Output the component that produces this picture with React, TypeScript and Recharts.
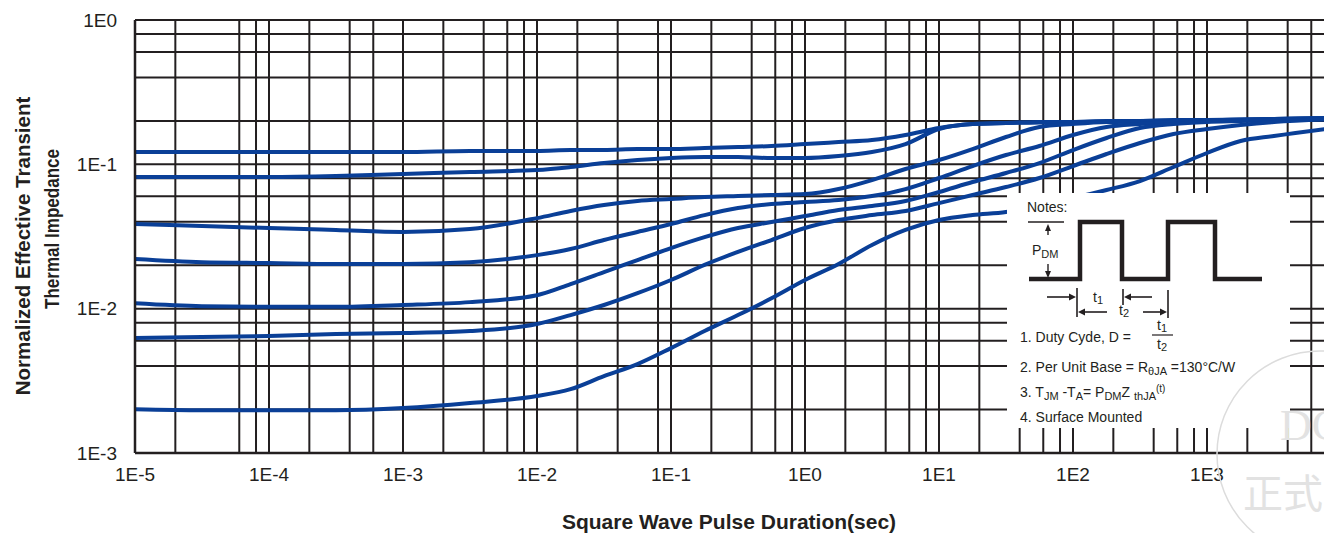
import React from "react";
import { LineChart, Line, XAxis, YAxis, CartesianGrid } from "recharts";

// Square wave pulse duration (s)
const pulseSec = [
  1e-5, 3.16e-5, 1e-4, 3.16e-4, 1e-3, 3.16e-3, 1e-2, 1.78e-2, 3.16e-2, 5.62e-2,
  0.1, 0.178, 0.316, 0.562, 1, 1.78, 3.16, 5.62, 10, 17.8,
  31.6, 56.2, 100, 178, 316, 562, 1000, 1780, 3160, 10000,
];

// Normalized effective transient thermal impedance per duty cycle
const dutyHalf = [0.1217,0.1217,0.1217,0.1217,0.1217,0.1237,0.1237,0.1256,0.1256,0.1276,0.1276,0.1297,0.1318,0.1339,0.1382,0.1427,0.1474,0.1596,0.1784,0.1902,0.1933,0.1965,0.1965,0.1996,0.1996,0.2028,0.2028,0.2044,0.2061,0.211];
const dutyFifth = [0.0817,0.0817,0.0817,0.083,0.0857,0.0885,0.0913,0.0958,0.1021,0.1071,0.1106,0.1124,0.1124,0.1106,0.1106,0.1142,0.1217,0.1382,0.1757,0.1902,0.1933,0.1949,0.1965,0.198,0.1996,0.2012,0.2028,0.2044,0.2061,0.2094];
const dutyTenth = [0.0386,0.0374,0.0362,0.0351,0.034,0.0356,0.0424,0.0475,0.0522,0.0557,0.0575,0.0593,0.0603,0.0613,0.0622,0.0674,0.0778,0.0928,0.1071,0.1276,0.1546,0.1813,0.1902,0.1965,0.198,0.1996,0.2012,0.2028,0.2061,0.2094];
const dutyFive = [0.0221,0.021,0.0207,0.0204,0.0204,0.021,0.0235,0.0259,0.0299,0.034,0.0386,0.0445,0.0498,0.0531,0.0548,0.0566,0.0603,0.0674,0.0804,0.0973,0.116,0.1339,0.1596,0.1813,0.1902,0.1965,0.1996,0.2028,0.2044,0.2077];
const dutyTwo = [0.0109,0.0104,0.0103,0.0103,0.0106,0.0111,0.0124,0.0148,0.0179,0.0217,0.0263,0.0313,0.0362,0.0398,0.0438,0.0482,0.0514,0.0557,0.0643,0.0754,0.0871,0.1021,0.1256,0.1522,0.1784,0.1902,0.1965,0.1996,0.2028,0.2061];
const dutyOne = [0.00626,0.00636,0.00646,0.00667,0.00678,0.007,0.00782,0.00903,0.0106,0.0128,0.0158,0.0201,0.0247,0.0299,0.0362,0.0411,0.0445,0.0475,0.0539,0.0613,0.0696,0.0804,0.0973,0.1179,0.1405,0.1622,0.1757,0.1872,0.1965,0.2061];
const singlePulse = [0.00201,0.00198,0.00198,0.00198,0.00205,0.00222,0.00248,0.00277,0.00341,0.00413,0.00533,0.007,0.00903,0.0118,0.0158,0.0204,0.0276,0.0351,0.0411,0.0445,0.0467,0.0522,0.0584,0.0664,0.0766,0.0958,0.1198,0.145,0.1571,0.1813];

// Grid lines (log paper)
const xGrid = [
  1e-5, 2e-5, 6e-5, 8e-5, 1e-4, 2e-4, 4e-4, 6e-4, 1e-3, 2e-3, 4e-3, 6e-3, 8e-3,
  1e-2, 2e-2, 4e-2, 8e-2, 0.1, 0.2, 0.4, 0.6, 0.8, 1, 2, 4, 6, 8, 10, 20, 40, 60, 80,
  100, 200, 400, 600, 800, 1000, 2000, 4000, 6000, 8000, 10000,
];
const yGrid = [0.001, 0.002, 0.004, 0.006, 0.008, 0.01, 0.02, 0.04, 0.06, 0.08, 0.1, 0.2, 0.4, 0.6, 0.8, 1];

const xTickLabels = ["1E-5", "1E-4", "1E-3", "1E-2", "1E-1", "1E0", "1E1", "1E2", "1E3", "1E4"];
const yTickLabels = ["1E-3", "1E-2", "1E-1", "1E0"];

const seriesList = [
  { key: "d05", values: dutyHalf },
  { key: "d02", values: dutyFifth },
  { key: "d01", values: dutyTenth },
  { key: "d005", values: dutyFive },
  { key: "d002", values: dutyTwo },
  { key: "d001", values: dutyOne },
  { key: "single", values: singlePulse },
];

const rows = pulseSec.map((t, i) => {
  const r: Record<string, number> = { t };
  seriesList.forEach((s) => (r[s.key] = s.values[i]));
  return r;
});

const INK = "#231f20";
const BLUE = "#0a3f97";
const FONT = "'Liberation Sans', Arial, Helvetica, sans-serif";

function decadeLabel(v: number, labels: string[]) {
  const e = Math.log10(v);
  if (Math.abs(e - Math.round(e)) > 1e-6) return "";
  const lab = "1E" + Math.round(e);
  return labels.includes(lab) ? lab : "";
}

const XTick = (props: any) => {
  const { x, y, payload } = props;
  const lab = decadeLabel(payload.value, xTickLabels);
  if (!lab) return <g />;
  return (
    <text x={x} y={y + 21} textAnchor="middle" dominantBaseline="central" fill={INK} fontSize={19} fontFamily={FONT}>
      {lab}
    </text>
  );
};

const YTick = (props: any) => {
  const { x, y, payload } = props;
  const lab = decadeLabel(payload.value, yTickLabels);
  if (!lab) return <g />;
  return (
    <text x={x - 18} y={y} textAnchor="end" dominantBaseline="central" fill={INK} fontSize={19} fontFamily={FONT}>
      {lab}
    </text>
  );
};

const Arrow = ({ x1, x2, y }: { x1: number; x2: number; y: number }) => {
  const dir = x2 > x1 ? 1 : -1;
  return (
    <g>
      <line x1={x1} y1={y} x2={x2 - dir * 5} y2={y} stroke={INK} strokeWidth={1.6} />
      <polygon points={`${x2},${y} ${x2 - dir * 7},${y - 3.5} ${x2 - dir * 7},${y + 3.5}`} fill={INK} />
    </g>
  );
};

const VArrow = ({ x, y1, y2 }: { x: number; y1: number; y2: number }) => {
  const dir = y2 > y1 ? 1 : -1;
  return (
    <g>
      <line x1={x} y1={y1} x2={x} y2={y2 - dir * 5} stroke={INK} strokeWidth={1.4} />
      <polygon points={`${x},${y2} ${x - 3},${y2 - dir * 7} ${x + 3},${y2 - dir * 7}`} fill={INK} />
    </g>
  );
};

const NotesBox = () => {
  const wave = "22,86 73,86 73,29 115,29 115,86 161,86 161,29 208,29 208,86 255,86";
  const t = { fontFamily: FONT, fontSize: 14, fill: INK } as const;
  return (
    <div style={{ position: "absolute", left: 999, top: 185, width: 283, height: 235, background: "#fff" }}>
      <svg width={283} height={235} style={{ display: "block" }}>
        <text x={20} y={19} {...t}>Notes:</text>
        <polyline points={wave} fill="none" stroke={INK} strokeWidth={4.5} strokeLinejoin="miter" />
        <line x1={21} y1={29} x2={57} y2={29} stroke={INK} strokeWidth={1.6} />
        <VArrow x={41} y1={42} y2={31} />
        <text x={25} y={62} {...t}>P<tspan fontSize={11} dy={3}>DM</tspan></text>
        <VArrow x={41} y1={71} y2={85} />
        {/* t1 markers */}
        <line x1={70} y1={95} x2={70} y2={124} stroke={INK} strokeWidth={1.6} />
        <Arrow x1={40} x2={69} y={104} />
        <Arrow x1={100} x2={71} y={119} />
        <text x={86} y={109} {...t}>t<tspan fontSize={11} dy={2}>1</tspan></text>
        {/* t2 markers */}
        <line x1={116} y1={96} x2={116} y2={112} stroke={INK} strokeWidth={1.6} />
        <Arrow x1={145} x2={117} y={104} />
        <text x={112} y={122} {...t}>t<tspan fontSize={11} dy={2}>2</tspan></text>
        <Arrow x1={136} x2={160} y={119} />
        <line x1={161} y1={97} x2={161} y2={125} stroke={INK} strokeWidth={1.6} />
        {/* notes */}
        <text x={13} y={149} {...t}>1. Duty Cyde, D =</text>
        <text x={150} y={137} {...t}>t<tspan fontSize={11} dy={2}>1</tspan></text>
        <line x1={145} y1={142} x2={166} y2={142} stroke={INK} strokeWidth={1.2} />
        <text x={150} y={156} {...t}>t<tspan fontSize={11} dy={2}>2</tspan></text>
        <text x={13} y={179} {...t}>
          2. Per Unit Base = R<tspan fontSize={11} dy={3}>θJA</tspan><tspan dy={-3}> =130°C/W</tspan>
        </text>
        <text x={13} y={204} {...t}>
          3. T<tspan fontSize={11} dy={3}>JM</tspan><tspan dy={-3}> -T</tspan><tspan fontSize={11} dy={3}>A</tspan>
          <tspan dy={-3}>= P</tspan><tspan fontSize={11} dy={3}>DM</tspan><tspan dy={-3}>Z </tspan>
          <tspan fontSize={11} dy={3}>thJA</tspan><tspan fontSize={10} dy={-8}>(t)</tspan>
        </text>
        <text x={13} y={229} {...t}>4. Surface Mounted</text>
      </svg>
    </div>
  );
};

export default function App() {
  return (
    <div style={{ position: "relative", width: 1324, height: 525, overflow: "hidden", background: "#fff" }}>
      <LineChart width={1340} height={525} data={rows} margin={{ top: 12, right: 7, bottom: 0, left: 0 }}>
        <CartesianGrid stroke={INK} strokeWidth={2} verticalFill={[]} horizontalFill={[]} />
        <XAxis
          dataKey="t"
          type="number"
          scale="log"
          domain={[1e-5, 1e4]}
          ticks={xGrid}
          interval={0}
          allowDataOverflow
          tick={XTick}
          tickLine={false}
          tickSize={0}
          tickMargin={0}
          axisLine={{ stroke: INK, strokeWidth: 2.5 }}
          height={80}
        />
        <YAxis
          type="number"
          scale="log"
          domain={[1e-3, 1]}
          ticks={yGrid}
          interval={0}
          allowDataOverflow
          tick={YTick}
          tickLine={false}
          tickSize={0}
          tickMargin={0}
          axisLine={{ stroke: INK, strokeWidth: 2.5 }}
          width={127}
        />
        {seriesList.map((s) => (
          <Line
            key={s.key}
            dataKey={s.key}
            type="monotone"
            stroke={BLUE}
            strokeWidth={4}
            dot={false}
            activeDot={false}
            isAnimationActive={false}
          />
        ))}
      </LineChart>
      <NotesBox />
      <svg width={1324} height={525} style={{ position: "absolute", left: 0, top: 0, pointerEvents: "none" }}>
        <text x={721} y={521} textAnchor="middle" fontFamily={FONT} fontWeight="bold" fontSize={21} fill={INK}>
          Square Wave Pulse Duration(sec)
        </text>
        <text transform="translate(14,238) rotate(-90)" textAnchor="middle" dominantBaseline="central" fontFamily={FONT} fontWeight="bold" fontSize={20.5} fill={INK}>
          Normalized Effective Transient
        </text>
        <text transform="translate(44,221) rotate(-90)" textAnchor="middle" dominantBaseline="central" fontFamily={FONT} fontWeight="bold" fontSize={20} textLength={160} lengthAdjust="spacingAndGlyphs" fill={INK}>
          Thermal Impedance
        </text>
        <circle cx={1312} cy={446} r={103} fill="none" stroke="#dcdcdc" strokeWidth={1.5} />
        <text x={1272} y={432} fontFamily="'Liberation Serif', 'DejaVu Serif', serif" fontSize={44} fill="#e2e2e2">DC</text>
        <text x={1235} y={500} fontFamily="'Noto Sans CJK SC', sans-serif" fontSize={40} fill="#e2e2e2">正式</text>
      </svg>
    </div>
  );
}
